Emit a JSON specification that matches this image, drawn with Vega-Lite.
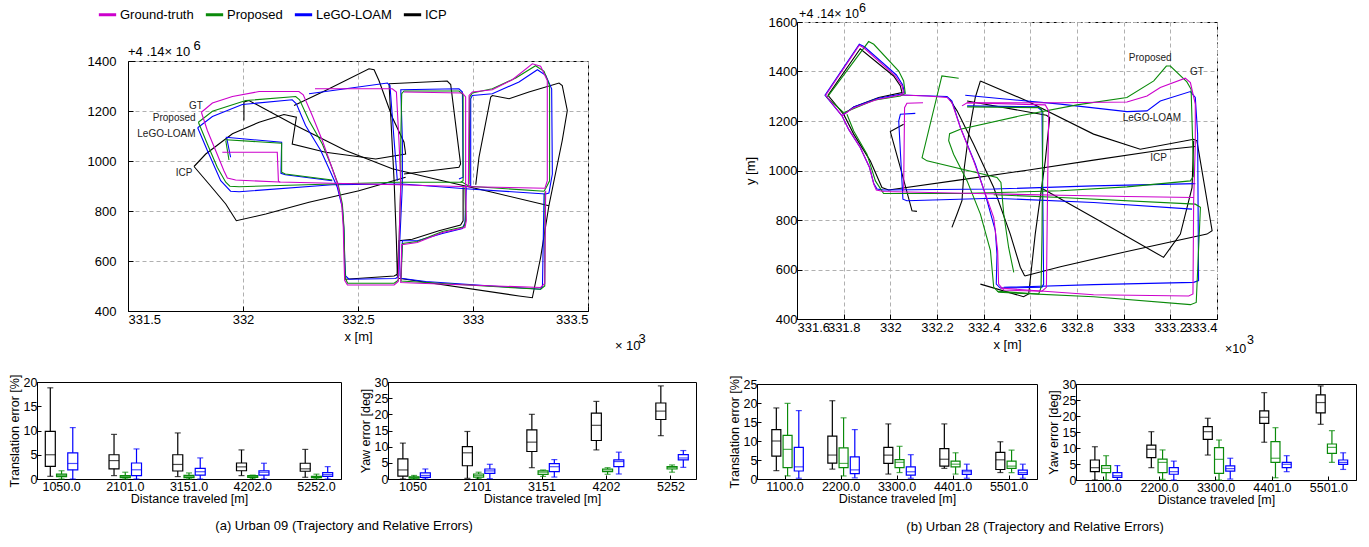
{
"$schema": "https://vega.github.io/schema/vega-lite/v6.json",
"padding": {"left": 7, "top": 1, "right": 5, "bottom": 5},
"config": {
  "font": "Liberation Sans",
  "view": {"stroke": "#000000"},
  "axis": {"labelFont": "Liberation Sans", "titleFont": "Liberation Sans", "labelFontSize": 13, "titleFontSize": 13, "titleFontWeight": "normal", "labelColor": "#000", "titleColor": "#000", "domainColor": "#000", "tickColor": "#000", "labelOverlap": false},
  "text": {"font": "Liberation Sans"},
  "title": {"font": "Liberation Sans", "fontWeight": "normal", "fontSize": 13, "color": "#000"}
},
"datasets": {
"t09": [
{"m":"ICP","s":"K1","x":331.787,"y":978},{"m":"ICP","s":"K1","x":331.838,"y":1028},{"m":"ICP","s":"K1","x":331.954,"y":1109},{"m":"ICP","s":"K1","x":332.070,"y":1155},{"m":"ICP","s":"K1","x":332.178,"y":1186},{"m":"ICP","s":"K1","x":332.232,"y":1175},{"m":"ICP","s":"K1","x":332.214,"y":1068},{"m":"ICP","s":"K1","x":332.359,"y":1035},{"m":"ICP","s":"K1","x":332.577,"y":1008},{"m":"ICP","s":"K1","x":332.707,"y":1028},{"m":"ICP","s":"K1","x":332.700,"y":1075},{"m":"ICP","s":"K1","x":332.649,"y":1175},{"m":"ICP","s":"K1","x":332.591,"y":1322},{"m":"ICP","s":"K1","x":332.570,"y":1365},{"m":"ICP","s":"K1","x":332.548,"y":1369},{"m":"ICP","s":"K1","x":332.359,"y":1282},{"m":"ICP","s":"K1","x":332.222,"y":1222},
{"m":"ICP","s":"K2","x":331.787,"y":978},{"m":"ICP","s":"K2","x":331.852,"y":908},{"m":"ICP","s":"K2","x":331.925,"y":828},{"m":"ICP","s":"K2","x":331.971,"y":761},{"m":"ICP","s":"K2","x":332.099,"y":788},{"m":"ICP","s":"K2","x":332.287,"y":835},{"m":"ICP","s":"K2","x":332.504,"y":881},{"m":"ICP","s":"K2","x":332.707,"y":935},
{"m":"ICP","s":"K3","x":332.004,"y":1162},{"m":"ICP","s":"K3","x":332.004,"y":1236},{"m":"ICP","s":"K3","x":332.026,"y":1242},{"m":"ICP","s":"K3","x":332.214,"y":1149},{"m":"ICP","s":"K3","x":332.446,"y":1042},{"m":"ICP","s":"K3","x":332.649,"y":969},{"m":"ICP","s":"K3","x":332.867,"y":921},{"m":"ICP","s":"K3","x":333.084,"y":875},{"m":"ICP","s":"K3","x":333.330,"y":821},
{"m":"ICP","s":"K5","x":332.635,"y":1309},{"m":"ICP","s":"K5","x":332.888,"y":1320},{"m":"ICP","s":"K5","x":332.903,"y":1306},{"m":"ICP","s":"K5","x":332.946,"y":988},{"m":"ICP","s":"K5","x":332.939,"y":975},{"m":"ICP","s":"K5","x":332.700,"y":948},
{"m":"ICP","s":"K6","x":332.635,"y":1309},{"m":"ICP","s":"K6","x":332.657,"y":921},{"m":"ICP","s":"K6","x":332.667,"y":681},{"m":"ICP","s":"K6","x":332.671,"y":547},{"m":"ICP","s":"K6","x":332.657,"y":540},{"m":"ICP","s":"K6","x":332.446,"y":527},{"m":"ICP","s":"K6","x":332.442,"y":540},
{"m":"ICP","s":"K7","x":332.671,"y":547},{"m":"ICP","s":"K7","x":332.678,"y":681},{"m":"ICP","s":"K7","x":332.736,"y":687},{"m":"ICP","s":"K7","x":332.852,"y":721},{"m":"ICP","s":"K7","x":332.946,"y":744},{"m":"ICP","s":"K7","x":332.957,"y":761},{"m":"ICP","s":"K7","x":332.957,"y":895},
{"m":"ICP","s":"K8","x":333.012,"y":905},{"m":"ICP","s":"K8","x":333.026,"y":1015},{"m":"ICP","s":"K8","x":333.077,"y":1256},{"m":"ICP","s":"K8","x":333.084,"y":1262},{"m":"ICP","s":"K8","x":333.157,"y":1249},{"m":"ICP","s":"K8","x":333.243,"y":1276},{"m":"ICP","s":"K8","x":333.374,"y":1312},{"m":"ICP","s":"K8","x":333.388,"y":1302},{"m":"ICP","s":"K8","x":333.410,"y":1202},{"m":"ICP","s":"K8","x":333.388,"y":1082},{"m":"ICP","s":"K8","x":333.330,"y":821},{"m":"ICP","s":"K8","x":333.294,"y":614},{"m":"ICP","s":"K8","x":333.258,"y":453},{"m":"ICP","s":"K8","x":333.200,"y":460},{"m":"ICP","s":"K8","x":332.678,"y":531},{"m":"ICP","s":"K8","x":332.667,"y":547},
{"m":"LeGO-LOAM","s":"B1","x":331.803,"y":1133},{"m":"LeGO-LOAM","s":"B1","x":331.867,"y":1178},{"m":"LeGO-LOAM","s":"B1","x":331.997,"y":1226},{"m":"LeGO-LOAM","s":"B1","x":332.214,"y":1245},{"m":"LeGO-LOAM","s":"B1","x":332.232,"y":1229},{"m":"LeGO-LOAM","s":"B1","x":332.272,"y":1142},{"m":"LeGO-LOAM","s":"B1","x":332.338,"y":1042},{"m":"LeGO-LOAM","s":"B1","x":332.381,"y":955},{"m":"LeGO-LOAM","s":"B1","x":332.410,"y":895},{"m":"LeGO-LOAM","s":"B1","x":332.432,"y":814},{"m":"LeGO-LOAM","s":"B1","x":332.439,"y":721},{"m":"LeGO-LOAM","s":"B1","x":332.442,"y":614},{"m":"LeGO-LOAM","s":"B1","x":332.446,"y":540},{"m":"LeGO-LOAM","s":"B1","x":332.461,"y":527},{"m":"LeGO-LOAM","s":"B1","x":332.664,"y":530},{"m":"LeGO-LOAM","s":"B1","x":332.678,"y":540},{"m":"LeGO-LOAM","s":"B1","x":332.681,"y":667},{"m":"LeGO-LOAM","s":"B1","x":332.693,"y":908},{"m":"LeGO-LOAM","s":"B1","x":332.693,"y":1082},{"m":"LeGO-LOAM","s":"B1","x":332.686,"y":1285},{"m":"LeGO-LOAM","s":"B1","x":332.939,"y":1289},{"m":"LeGO-LOAM","s":"B1","x":332.954,"y":1276},{"m":"LeGO-LOAM","s":"B1","x":332.957,"y":935},{"m":"LeGO-LOAM","s":"B1","x":332.939,"y":928},
{"m":"LeGO-LOAM","s":"B2","x":331.803,"y":1133},{"m":"LeGO-LOAM","s":"B2","x":331.845,"y":1042},{"m":"LeGO-LOAM","s":"B2","x":331.903,"y":921},{"m":"LeGO-LOAM","s":"B2","x":331.946,"y":879},{"m":"LeGO-LOAM","s":"B2","x":331.983,"y":877},{"m":"LeGO-LOAM","s":"B2","x":332.388,"y":905},{"m":"LeGO-LOAM","s":"B2","x":332.693,"y":908},{"m":"LeGO-LOAM","s":"B2","x":332.983,"y":888},{"m":"LeGO-LOAM","s":"B2","x":333.316,"y":868},{"m":"LeGO-LOAM","s":"B2","x":333.330,"y":872},{"m":"LeGO-LOAM","s":"B2","x":333.345,"y":948},{"m":"LeGO-LOAM","s":"B2","x":333.342,"y":1289},{"m":"LeGO-LOAM","s":"B2","x":333.316,"y":1343},{"m":"LeGO-LOAM","s":"B2","x":333.280,"y":1365},{"m":"LeGO-LOAM","s":"B2","x":333.200,"y":1316},{"m":"LeGO-LOAM","s":"B2","x":333.084,"y":1269},{"m":"LeGO-LOAM","s":"B2","x":332.997,"y":1262},{"m":"LeGO-LOAM","s":"B2","x":332.990,"y":1249},{"m":"LeGO-LOAM","s":"B2","x":332.990,"y":895},
{"m":"LeGO-LOAM","s":"B3a","x":331.929,"y":1093},{"m":"LeGO-LOAM","s":"B3a","x":331.946,"y":1015},
{"m":"LeGO-LOAM","s":"B3b","x":331.925,"y":1095},{"m":"LeGO-LOAM","s":"B3b","x":332.168,"y":1075},{"m":"LeGO-LOAM","s":"B3b","x":332.165,"y":951},{"m":"LeGO-LOAM","s":"B3b","x":332.184,"y":945},{"m":"LeGO-LOAM","s":"B3b","x":332.388,"y":921},
{"m":"LeGO-LOAM","s":"B4","x":332.287,"y":1269},{"m":"LeGO-LOAM","s":"B4","x":332.446,"y":1289},{"m":"LeGO-LOAM","s":"B4","x":332.628,"y":1312},{"m":"LeGO-LOAM","s":"B4","x":332.639,"y":1302},{"m":"LeGO-LOAM","s":"B4","x":332.657,"y":1082},{"m":"LeGO-LOAM","s":"B4","x":332.671,"y":921},
{"m":"LeGO-LOAM","s":"B5","x":332.971,"y":895},{"m":"LeGO-LOAM","s":"B5","x":332.965,"y":754},{"m":"LeGO-LOAM","s":"B5","x":332.954,"y":730},{"m":"LeGO-LOAM","s":"B5","x":332.867,"y":710},{"m":"LeGO-LOAM","s":"B5","x":332.758,"y":681},{"m":"LeGO-LOAM","s":"B5","x":332.693,"y":681},{"m":"LeGO-LOAM","s":"B5","x":332.686,"y":531},{"m":"LeGO-LOAM","s":"B5","x":332.794,"y":518},{"m":"LeGO-LOAM","s":"B5","x":333.294,"y":487},{"m":"LeGO-LOAM","s":"B5","x":333.302,"y":500},{"m":"LeGO-LOAM","s":"B5","x":333.309,"y":868},
{"m":"Proposed","s":"P1","x":331.806,"y":1155},{"m":"Proposed","s":"P1","x":331.867,"y":1199},{"m":"Proposed","s":"P1","x":332.012,"y":1242},{"m":"Proposed","s":"P1","x":332.229,"y":1258},{"m":"Proposed","s":"P1","x":332.246,"y":1245},{"m":"Proposed","s":"P1","x":332.287,"y":1162},{"m":"Proposed","s":"P1","x":332.345,"y":1068},{"m":"Proposed","s":"P1","x":332.386,"y":975},{"m":"Proposed","s":"P1","x":332.413,"y":908},{"m":"Proposed","s":"P1","x":332.432,"y":828},{"m":"Proposed","s":"P1","x":332.439,"y":734},{"m":"Proposed","s":"P1","x":332.442,"y":614},{"m":"Proposed","s":"P1","x":332.445,"y":531},{"m":"Proposed","s":"P1","x":332.455,"y":511},{"m":"Proposed","s":"P1","x":332.657,"y":511},{"m":"Proposed","s":"P1","x":332.675,"y":523},{"m":"Proposed","s":"P1","x":332.678,"y":665},{"m":"Proposed","s":"P1","x":332.686,"y":908},{"m":"Proposed","s":"P1","x":332.686,"y":1082},{"m":"Proposed","s":"P1","x":332.690,"y":1269},{"m":"Proposed","s":"P1","x":332.700,"y":1280},{"m":"Proposed","s":"P1","x":332.939,"y":1280},{"m":"Proposed","s":"P1","x":332.957,"y":1266},{"m":"Proposed","s":"P1","x":332.957,"y":921},{"m":"Proposed","s":"P1","x":332.946,"y":915},
{"m":"Proposed","s":"P2","x":331.806,"y":1155},{"m":"Proposed","s":"P2","x":331.845,"y":1068},{"m":"Proposed","s":"P2","x":331.888,"y":975},{"m":"Proposed","s":"P2","x":331.925,"y":915},{"m":"Proposed","s":"P2","x":331.943,"y":899},{"m":"Proposed","s":"P2","x":331.983,"y":897},{"m":"Proposed","s":"P2","x":332.388,"y":908},{"m":"Proposed","s":"P2","x":332.675,"y":915},{"m":"Proposed","s":"P2","x":332.954,"y":915},{"m":"Proposed","s":"P2","x":332.983,"y":899},{"m":"Proposed","s":"P2","x":333.309,"y":879},{"m":"Proposed","s":"P2","x":333.319,"y":895},{"m":"Proposed","s":"P2","x":333.333,"y":921},{"m":"Proposed","s":"P2","x":333.333,"y":1302},{"m":"Proposed","s":"P2","x":333.309,"y":1359},{"m":"Proposed","s":"P2","x":333.272,"y":1381},{"m":"Proposed","s":"P2","x":333.186,"y":1332},{"m":"Proposed","s":"P2","x":333.084,"y":1289},{"m":"Proposed","s":"P2","x":332.997,"y":1272},{"m":"Proposed","s":"P2","x":332.986,"y":1256},{"m":"Proposed","s":"P2","x":332.983,"y":908},
{"m":"Proposed","s":"P3a","x":331.925,"y":1082},{"m":"Proposed","s":"P3a","x":331.939,"y":1004},
{"m":"Proposed","s":"P3b","x":331.925,"y":1085},{"m":"Proposed","s":"P3b","x":332.168,"y":1071},{"m":"Proposed","s":"P3b","x":332.168,"y":955},{"m":"Proposed","s":"P3b","x":332.184,"y":948},{"m":"Proposed","s":"P3b","x":332.388,"y":924},
{"m":"Proposed","s":"P4","x":332.965,"y":895},{"m":"Proposed","s":"P4","x":332.968,"y":761},{"m":"Proposed","s":"P4","x":332.961,"y":737},{"m":"Proposed","s":"P4","x":332.867,"y":718},{"m":"Proposed","s":"P4","x":332.758,"y":678},{"m":"Proposed","s":"P4","x":332.693,"y":670},{"m":"Proposed","s":"P4","x":332.687,"y":520},{"m":"Proposed","s":"P4","x":332.794,"y":514},{"m":"Proposed","s":"P4","x":333.294,"y":487},{"m":"Proposed","s":"P4","x":333.312,"y":500},{"m":"Proposed","s":"P4","x":333.313,"y":875},
{"m":"Ground-truth","s":"G1","x":331.819,"y":1195},{"m":"Ground-truth","s":"G1","x":331.867,"y":1232},{"m":"Ground-truth","s":"G1","x":331.954,"y":1258},{"m":"Ground-truth","s":"G1","x":332.070,"y":1278},{"m":"Ground-truth","s":"G1","x":332.243,"y":1278},{"m":"Ground-truth","s":"G1","x":332.262,"y":1265},{"m":"Ground-truth","s":"G1","x":332.301,"y":1182},{"m":"Ground-truth","s":"G1","x":332.345,"y":1082},{"m":"Ground-truth","s":"G1","x":332.381,"y":988},{"m":"Ground-truth","s":"G1","x":332.410,"y":911},{"m":"Ground-truth","s":"G1","x":332.429,"y":828},{"m":"Ground-truth","s":"G1","x":332.436,"y":734},{"m":"Ground-truth","s":"G1","x":332.439,"y":614},{"m":"Ground-truth","s":"G1","x":332.442,"y":523},{"m":"Ground-truth","s":"G1","x":332.454,"y":504},{"m":"Ground-truth","s":"G1","x":332.657,"y":504},{"m":"Ground-truth","s":"G1","x":332.675,"y":518},{"m":"Ground-truth","s":"G1","x":332.678,"y":665},{"m":"Ground-truth","s":"G1","x":332.686,"y":908},{"m":"Ground-truth","s":"G1","x":332.678,"y":1082},{"m":"Ground-truth","s":"G1","x":332.667,"y":1276},{"m":"Ground-truth","s":"G1","x":332.649,"y":1289},{"m":"Ground-truth","s":"G1","x":332.313,"y":1289},
{"m":"Ground-truth","s":"G2","x":331.819,"y":1195},{"m":"Ground-truth","s":"G2","x":331.845,"y":1122},{"m":"Ground-truth","s":"G2","x":331.881,"y":1042},{"m":"Ground-truth","s":"G2","x":331.917,"y":961},{"m":"Ground-truth","s":"G2","x":331.932,"y":932},{"m":"Ground-truth","s":"G2","x":331.968,"y":924},{"m":"Ground-truth","s":"G2","x":332.157,"y":916},{"m":"Ground-truth","s":"G2","x":332.388,"y":911},{"m":"Ground-truth","s":"G2","x":332.675,"y":905},{"m":"Ground-truth","s":"G2","x":332.983,"y":897},{"m":"Ground-truth","s":"G2","x":333.313,"y":891},{"m":"Ground-truth","s":"G2","x":333.323,"y":921},{"m":"Ground-truth","s":"G2","x":333.323,"y":1322},{"m":"Ground-truth","s":"G2","x":333.294,"y":1379},{"m":"Ground-truth","s":"G2","x":333.258,"y":1389},{"m":"Ground-truth","s":"G2","x":333.171,"y":1325},{"m":"Ground-truth","s":"G2","x":333.084,"y":1285},{"m":"Ground-truth","s":"G2","x":332.997,"y":1276},{"m":"Ground-truth","s":"G2","x":332.983,"y":1262},{"m":"Ground-truth","s":"G2","x":332.980,"y":908},{"m":"Ground-truth","s":"G2","x":332.990,"y":895},
{"m":"Ground-truth","s":"G3","x":331.910,"y":1035},{"m":"Ground-truth","s":"G3","x":332.149,"y":1035},{"m":"Ground-truth","s":"G3","x":332.154,"y":919},{"m":"Ground-truth","s":"G3","x":332.162,"y":915},
{"m":"Ground-truth","s":"G4","x":332.700,"y":1276},{"m":"Ground-truth","s":"G4","x":332.954,"y":1272},{"m":"Ground-truth","s":"G4","x":332.968,"y":1256},{"m":"Ground-truth","s":"G4","x":332.968,"y":908},{"m":"Ground-truth","s":"G4","x":332.971,"y":761},{"m":"Ground-truth","s":"G4","x":332.965,"y":734},{"m":"Ground-truth","s":"G4","x":332.867,"y":714},{"m":"Ground-truth","s":"G4","x":332.758,"y":674},{"m":"Ground-truth","s":"G4","x":332.690,"y":665},{"m":"Ground-truth","s":"G4","x":332.686,"y":514},{"m":"Ground-truth","s":"G4","x":332.794,"y":510},{"m":"Ground-truth","s":"G4","x":333.294,"y":494},{"m":"Ground-truth","s":"G4","x":333.312,"y":510},{"m":"Ground-truth","s":"G4","x":333.316,"y":881}
],
"t28": [
{"m":"ICP","s":"K1","x":331.800,"y":1227},{"m":"ICP","s":"K1","x":331.733,"y":1304},{"m":"ICP","s":"K1","x":331.871,"y":1492},{"m":"ICP","s":"K1","x":332.014,"y":1382},{"m":"ICP","s":"K1","x":332.043,"y":1342},{"m":"ICP","s":"K1","x":332.050,"y":1315},{"m":"ICP","s":"K1","x":331.950,"y":1295},{"m":"ICP","s":"K1","x":331.843,"y":1257},{"m":"ICP","s":"K1","x":331.800,"y":1227},
{"m":"ICP","s":"K2","x":331.800,"y":1227},{"m":"ICP","s":"K2","x":331.843,"y":1147},{"m":"ICP","s":"K2","x":331.914,"y":1039},{"m":"ICP","s":"K2","x":331.964,"y":931},{"m":"ICP","s":"K2","x":331.993,"y":921},{"m":"ICP","s":"K2","x":332.300,"y":962},{"m":"ICP","s":"K2","x":332.586,"y":1001},{"m":"ICP","s":"K2","x":332.871,"y":1042},{"m":"ICP","s":"K2","x":333.157,"y":1082},{"m":"ICP","s":"K2","x":333.307,"y":1097},
{"m":"ICP","s":"K3","x":332.057,"y":1187},{"m":"ICP","s":"K3","x":332.000,"y":1157},{"m":"ICP","s":"K3","x":332.043,"y":1012},{"m":"ICP","s":"K3","x":332.093,"y":837},{"m":"ICP","s":"K3","x":332.114,"y":835},
{"m":"ICP","s":"K4","x":332.386,"y":1362},{"m":"ICP","s":"K4","x":332.586,"y":1281},{"m":"ICP","s":"K4","x":332.871,"y":1147},{"m":"ICP","s":"K4","x":333.071,"y":1086},{"m":"ICP","s":"K4","x":333.300,"y":1126},{"m":"ICP","s":"K4","x":333.314,"y":1120},{"m":"ICP","s":"K4","x":333.379,"y":757},{"m":"ICP","s":"K4","x":333.357,"y":743},{"m":"ICP","s":"K4","x":333.014,"y":673},{"m":"ICP","s":"K4","x":332.729,"y":611},{"m":"ICP","s":"K4","x":332.576,"y":574},
{"m":"ICP","s":"K5","x":332.386,"y":1362},{"m":"ICP","s":"K5","x":332.364,"y":1295},{"m":"ICP","s":"K5","x":332.336,"y":1147},{"m":"ICP","s":"K5","x":332.317,"y":1012},{"m":"ICP","s":"K5","x":332.307,"y":878},{"m":"ICP","s":"K5","x":332.286,"y":824},{"m":"ICP","s":"K5","x":332.264,"y":770},
{"m":"ICP","s":"K6","x":332.254,"y":1288},{"m":"ICP","s":"K6","x":332.286,"y":1241},{"m":"ICP","s":"K6","x":332.357,"y":1106},{"m":"ICP","s":"K6","x":332.443,"y":931},{"m":"ICP","s":"K6","x":332.514,"y":743},{"m":"ICP","s":"K6","x":332.557,"y":609},{"m":"ICP","s":"K6","x":332.576,"y":574},
{"m":"ICP","s":"K7","x":332.386,"y":541},{"m":"ICP","s":"K7","x":332.571,"y":490},{"m":"ICP","s":"K7","x":332.593,"y":501},{"m":"ICP","s":"K7","x":332.621,"y":743},{"m":"ICP","s":"K7","x":332.664,"y":1039},{"m":"ICP","s":"K7","x":332.683,"y":1214},{"m":"ICP","s":"K7","x":332.669,"y":1223},{"m":"ICP","s":"K7","x":332.329,"y":1281},
{"m":"ICP","s":"K8","x":332.643,"y":931},{"m":"ICP","s":"K8","x":332.871,"y":810},{"m":"ICP","s":"K8","x":333.171,"y":649},{"m":"ICP","s":"K8","x":333.243,"y":743},{"m":"ICP","s":"K8","x":333.293,"y":931},{"m":"ICP","s":"K8","x":333.300,"y":1120},
{"m":"LeGO-LOAM","s":"B1","x":331.793,"y":1221},{"m":"LeGO-LOAM","s":"B1","x":331.720,"y":1304},{"m":"LeGO-LOAM","s":"B1","x":331.867,"y":1510},{"m":"LeGO-LOAM","s":"B1","x":331.889,"y":1500},{"m":"LeGO-LOAM","s":"B1","x":332.026,"y":1386},{"m":"LeGO-LOAM","s":"B1","x":332.053,"y":1346},{"m":"LeGO-LOAM","s":"B1","x":332.060,"y":1315},{"m":"LeGO-LOAM","s":"B1","x":332.043,"y":1308},{"m":"LeGO-LOAM","s":"B1","x":331.943,"y":1291},{"m":"LeGO-LOAM","s":"B1","x":331.843,"y":1257},{"m":"LeGO-LOAM","s":"B1","x":331.793,"y":1221},
{"m":"LeGO-LOAM","s":"B2","x":331.793,"y":1221},{"m":"LeGO-LOAM","s":"B2","x":331.821,"y":1167},{"m":"LeGO-LOAM","s":"B2","x":331.871,"y":1093},{"m":"LeGO-LOAM","s":"B2","x":331.911,"y":1012},{"m":"LeGO-LOAM","s":"B2","x":331.929,"y":947},{"m":"LeGO-LOAM","s":"B2","x":331.943,"y":925},{"m":"LeGO-LOAM","s":"B2","x":331.971,"y":921},{"m":"LeGO-LOAM","s":"B2","x":332.443,"y":925},{"m":"LeGO-LOAM","s":"B2","x":332.871,"y":938},{"m":"LeGO-LOAM","s":"B2","x":333.307,"y":947},
{"m":"LeGO-LOAM","s":"B3","x":332.107,"y":1231},{"m":"LeGO-LOAM","s":"B3","x":332.043,"y":1227},{"m":"LeGO-LOAM","s":"B3","x":332.036,"y":1200},{"m":"LeGO-LOAM","s":"B3","x":332.054,"y":884},{"m":"LeGO-LOAM","s":"B3","x":332.071,"y":878},{"m":"LeGO-LOAM","s":"B3","x":332.443,"y":888},{"m":"LeGO-LOAM","s":"B3","x":332.871,"y":871},{"m":"LeGO-LOAM","s":"B3","x":333.293,"y":844},
{"m":"LeGO-LOAM","s":"B4","x":332.043,"y":1305},{"m":"LeGO-LOAM","s":"B4","x":332.243,"y":1299},{"m":"LeGO-LOAM","s":"B4","x":332.264,"y":1281},{"m":"LeGO-LOAM","s":"B4","x":332.300,"y":1174},{"m":"LeGO-LOAM","s":"B4","x":332.364,"y":1026},{"m":"LeGO-LOAM","s":"B4","x":332.407,"y":904},{"m":"LeGO-LOAM","s":"B4","x":332.450,"y":757},{"m":"LeGO-LOAM","s":"B4","x":332.457,"y":662},{"m":"LeGO-LOAM","s":"B4","x":332.454,"y":541},{"m":"LeGO-LOAM","s":"B4","x":332.471,"y":525},{"m":"LeGO-LOAM","s":"B4","x":332.650,"y":528},{"m":"LeGO-LOAM","s":"B4","x":332.657,"y":541},{"m":"LeGO-LOAM","s":"B4","x":332.650,"y":1241},{"m":"LeGO-LOAM","s":"B4","x":332.629,"y":1257},{"m":"LeGO-LOAM","s":"B4","x":332.329,"y":1261},
{"m":"LeGO-LOAM","s":"B5","x":332.321,"y":1304},{"m":"LeGO-LOAM","s":"B5","x":332.729,"y":1268},{"m":"LeGO-LOAM","s":"B5","x":333.014,"y":1238},{"m":"LeGO-LOAM","s":"B5","x":333.100,"y":1241},{"m":"LeGO-LOAM","s":"B5","x":333.157,"y":1281},{"m":"LeGO-LOAM","s":"B5","x":333.286,"y":1319},{"m":"LeGO-LOAM","s":"B5","x":333.307,"y":1295},{"m":"LeGO-LOAM","s":"B5","x":333.317,"y":1147},{"m":"LeGO-LOAM","s":"B5","x":333.321,"y":555},{"m":"LeGO-LOAM","s":"B5","x":333.300,"y":548},{"m":"LeGO-LOAM","s":"B5","x":332.871,"y":539},{"m":"LeGO-LOAM","s":"B5","x":332.486,"y":528},
{"m":"Proposed","s":"P1","x":331.800,"y":1234},{"m":"Proposed","s":"P1","x":331.729,"y":1295},{"m":"Proposed","s":"P1","x":331.907,"y":1521},{"m":"Proposed","s":"P1","x":331.929,"y":1510},{"m":"Proposed","s":"P1","x":332.036,"y":1402},{"m":"Proposed","s":"P1","x":332.057,"y":1362},{"m":"Proposed","s":"P1","x":332.064,"y":1311},{"m":"Proposed","s":"P1","x":332.043,"y":1301},{"m":"Proposed","s":"P1","x":331.929,"y":1284},{"m":"Proposed","s":"P1","x":331.821,"y":1241},{"m":"Proposed","s":"P1","x":331.800,"y":1234},
{"m":"Proposed","s":"P2","x":331.814,"y":1227},{"m":"Proposed","s":"P2","x":331.843,"y":1160},{"m":"Proposed","s":"P2","x":331.900,"y":1066},{"m":"Proposed","s":"P2","x":331.936,"y":958},{"m":"Proposed","s":"P2","x":331.971,"y":907},{"m":"Proposed","s":"P2","x":332.300,"y":907},{"m":"Proposed","s":"P2","x":332.729,"y":918},{"m":"Proposed","s":"P2","x":333.014,"y":934},{"m":"Proposed","s":"P2","x":333.286,"y":958},{"m":"Proposed","s":"P2","x":333.300,"y":978},{"m":"Proposed","s":"P2","x":333.289,"y":1328},{"m":"Proposed","s":"P2","x":333.271,"y":1358},{"m":"Proposed","s":"P2","x":333.200,"y":1422},{"m":"Proposed","s":"P2","x":333.183,"y":1422},{"m":"Proposed","s":"P2","x":333.129,"y":1362},{"m":"Proposed","s":"P2","x":333.014,"y":1295},{"m":"Proposed","s":"P2","x":332.800,"y":1265},{"m":"Proposed","s":"P2","x":332.557,"y":1221},{"m":"Proposed","s":"P2","x":332.300,"y":1167},{"m":"Proposed","s":"P2","x":332.254,"y":1149},{"m":"Proposed","s":"P2","x":332.250,"y":1120},{"m":"Proposed","s":"P2","x":332.271,"y":1066},{"m":"Proposed","s":"P2","x":332.329,"y":958},{"m":"Proposed","s":"P2","x":332.386,"y":824},{"m":"Proposed","s":"P2","x":332.429,"y":676},{"m":"Proposed","s":"P2","x":332.443,"y":528},{"m":"Proposed","s":"P2","x":332.464,"y":508},{"m":"Proposed","s":"P2","x":332.871,"y":490},{"m":"Proposed","s":"P2","x":333.286,"y":458},{"m":"Proposed","s":"P2","x":333.311,"y":467},{"m":"Proposed","s":"P2","x":333.329,"y":851},{"m":"Proposed","s":"P2","x":333.307,"y":864},{"m":"Proposed","s":"P2","x":332.729,"y":891},{"m":"Proposed","s":"P2","x":332.443,"y":902},
{"m":"Proposed","s":"P3","x":332.293,"y":1373},{"m":"Proposed","s":"P3","x":332.221,"y":1382},{"m":"Proposed","s":"P3","x":332.136,"y":1052},{"m":"Proposed","s":"P3","x":332.157,"y":1039},{"m":"Proposed","s":"P3","x":332.457,"y":972},{"m":"Proposed","s":"P3","x":332.474,"y":952},{"m":"Proposed","s":"P3","x":332.486,"y":824},{"m":"Proposed","s":"P3","x":332.507,"y":689},{"m":"Proposed","s":"P3","x":332.529,"y":588},
{"m":"Proposed","s":"P4","x":332.329,"y":1257},{"m":"Proposed","s":"P4","x":332.643,"y":1254},{"m":"Proposed","s":"P4","x":332.654,"y":1234},{"m":"Proposed","s":"P4","x":332.650,"y":743},{"m":"Proposed","s":"P4","x":332.646,"y":528},{"m":"Proposed","s":"P4","x":332.636,"y":501},{"m":"Proposed","s":"P4","x":332.457,"y":512},
{"m":"Ground-truth","s":"G1","x":331.793,"y":1221},{"m":"Ground-truth","s":"G1","x":331.723,"y":1304},{"m":"Ground-truth","s":"G1","x":331.867,"y":1506},{"m":"Ground-truth","s":"G1","x":331.886,"y":1496},{"m":"Ground-truth","s":"G1","x":332.021,"y":1382},{"m":"Ground-truth","s":"G1","x":332.050,"y":1342},{"m":"Ground-truth","s":"G1","x":332.057,"y":1315},{"m":"Ground-truth","s":"G1","x":332.043,"y":1305},{"m":"Ground-truth","s":"G1","x":331.943,"y":1287},{"m":"Ground-truth","s":"G1","x":331.843,"y":1254},{"m":"Ground-truth","s":"G1","x":331.793,"y":1221},
{"m":"Ground-truth","s":"G2","x":331.793,"y":1221},{"m":"Ground-truth","s":"G2","x":331.821,"y":1167},{"m":"Ground-truth","s":"G2","x":331.871,"y":1093},{"m":"Ground-truth","s":"G2","x":331.911,"y":1012},{"m":"Ground-truth","s":"G2","x":331.929,"y":945},{"m":"Ground-truth","s":"G2","x":331.940,"y":921},{"m":"Ground-truth","s":"G2","x":331.971,"y":915},{"m":"Ground-truth","s":"G2","x":332.371,"y":907},{"m":"Ground-truth","s":"G2","x":332.729,"y":900},{"m":"Ground-truth","s":"G2","x":333.014,"y":895},{"m":"Ground-truth","s":"G2","x":333.300,"y":891},
{"m":"Ground-truth","s":"G3","x":332.043,"y":1305},{"m":"Ground-truth","s":"G3","x":332.157,"y":1301},{"m":"Ground-truth","s":"G3","x":332.243,"y":1295},{"m":"Ground-truth","s":"G3","x":332.264,"y":1274},{"m":"Ground-truth","s":"G3","x":332.300,"y":1174},{"m":"Ground-truth","s":"G3","x":332.357,"y":1039},{"m":"Ground-truth","s":"G3","x":332.400,"y":925},{"m":"Ground-truth","s":"G3","x":332.443,"y":810},{"m":"Ground-truth","s":"G3","x":332.460,"y":676},{"m":"Ground-truth","s":"G3","x":332.464,"y":541},{"m":"Ground-truth","s":"G3","x":332.486,"y":517},{"m":"Ground-truth","s":"G3","x":332.650,"y":512},{"m":"Ground-truth","s":"G3","x":332.669,"y":528},{"m":"Ground-truth","s":"G3","x":332.674,"y":931},{"m":"Ground-truth","s":"G3","x":332.679,"y":1241},{"m":"Ground-truth","s":"G3","x":332.664,"y":1265},{"m":"Ground-truth","s":"G3","x":332.329,"y":1274},{"m":"Ground-truth","s":"G3","x":332.307,"y":1261},
{"m":"Ground-truth","s":"G4","x":332.140,"y":1274},{"m":"Ground-truth","s":"G4","x":332.071,"y":1272},{"m":"Ground-truth","s":"G4","x":332.061,"y":1254},{"m":"Ground-truth","s":"G4","x":332.057,"y":918},
{"m":"Ground-truth","s":"G5","x":332.329,"y":1274},{"m":"Ground-truth","s":"G5","x":332.729,"y":1274},{"m":"Ground-truth","s":"G5","x":333.014,"y":1277},{"m":"Ground-truth","s":"G5","x":333.100,"y":1301},{"m":"Ground-truth","s":"G5","x":333.157,"y":1335},{"m":"Ground-truth","s":"G5","x":333.264,"y":1373},{"m":"Ground-truth","s":"G5","x":333.286,"y":1355},{"m":"Ground-truth","s":"G5","x":333.307,"y":1268},{"m":"Ground-truth","s":"G5","x":333.307,"y":1106},{"m":"Ground-truth","s":"G5","x":333.300,"y":878},{"m":"Ground-truth","s":"G5","x":333.297,"y":501},{"m":"Ground-truth","s":"G5","x":333.279,"y":493},{"m":"Ground-truth","s":"G5","x":332.871,"y":498},{"m":"Ground-truth","s":"G5","x":332.471,"y":525}
],
"lab09": [{"t":"GT","x":331.826,"y":1220},{"t":"Proposed","x":331.794,"y":1173},{"t":"LeGO-LOAM","x":331.794,"y":1109},{"t":"ICP","x":331.780,"y":952}],
"lab28": [{"t":"Proposed","x":333.114,"y":1453},{"t":"GT","x":333.314,"y":1400},{"t":"LeGO-LOAM","x":333.121,"y":1214},{"t":"ICP","x":333.150,"y":1052}],
"exp09": [{"t":"+4 .14× 10","x":331.5,"y":1420},{"t":"6","x":331.785,"y":1444},{"t":"× 10","x":333.617,"y":244},{"t":"3","x":333.72,"y":272}],
"exp28": [{"t":"+4 .14× 10","x":331.609,"y":1616},{"t":"6","x":331.866,"y":1640},{"t":"×10","x":333.434,"y":263},{"t":"3","x":333.529,"y":299}],
"b09t": [
{"d":"1050.0","m":"ICP","lo":0.55,"q1":2.6,"md":5.0,"q3":9.8,"hi":18.8},{"d":"1050.0","m":"Proposed","lo":0,"q1":0.5,"md":0.75,"q3":1.0,"hi":1.7},{"d":"1050.0","m":"LeGO-LOAM","lo":0,"q1":1.9,"md":3.2,"q3":5.4,"hi":10.6},
{"d":"2101.0","m":"ICP","lo":0.7,"q1":2.1,"md":3.8,"q3":5.0,"hi":9.2},{"d":"2101.0","m":"Proposed","lo":0,"q1":0.3,"md":0.5,"q3":0.7,"hi":1.4},{"d":"2101.0","m":"LeGO-LOAM","lo":0,"q1":0.7,"md":1.9,"q3":3.3,"hi":6.2},
{"d":"3151.0","m":"ICP","lo":0.5,"q1":1.65,"md":3.0,"q3":5.0,"hi":9.5},{"d":"3151.0","m":"Proposed","lo":0,"q1":0.3,"md":0.55,"q3":0.75,"hi":1.25},{"d":"3151.0","m":"LeGO-LOAM","lo":0,"q1":0.8,"md":1.5,"q3":2.2,"hi":4.35},
{"d":"4202.0","m":"ICP","lo":0.7,"q1":1.7,"md":2.5,"q3":3.3,"hi":6.0},{"d":"4202.0","m":"Proposed","lo":0.15,"q1":0.35,"md":0.5,"q3":0.7,"hi":0.8},{"d":"4202.0","m":"LeGO-LOAM","lo":0,"q1":0.8,"md":1.4,"q3":1.7,"hi":3.25},
{"d":"5252.0","m":"ICP","lo":0.35,"q1":1.6,"md":2.1,"q3":3.25,"hi":6.1},{"d":"5252.0","m":"Proposed","lo":0,"q1":0.3,"md":0.4,"q3":0.55,"hi":1.0},{"d":"5252.0","m":"LeGO-LOAM","lo":0,"q1":0.55,"md":0.9,"q3":1.3,"hi":2.55}
],
"b09y": [
{"d":"1050","m":"ICP","lo":0,"q1":0.9,"md":2.8,"q3":6.2,"hi":11.1},{"d":"1050","m":"Proposed","lo":0,"q1":0.3,"md":0.5,"q3":0.7,"hi":1.1},{"d":"1050","m":"LeGO-LOAM","lo":0,"q1":0.5,"md":1.1,"q3":1.9,"hi":3.1},
{"d":"2101","m":"ICP","lo":0.2,"q1":4.1,"md":8.1,"q3":10.0,"hi":14.7},{"d":"2101","m":"Proposed","lo":0.1,"q1":0.6,"md":1.1,"q3":1.55,"hi":2.1},{"d":"2101","m":"LeGO-LOAM","lo":0.1,"q1":1.75,"md":2.5,"q3":3.1,"hi":4.55},
{"d":"3151","m":"ICP","lo":3.5,"q1":8.5,"md":11.4,"q3":15.2,"hi":20.0},{"d":"3151","m":"Proposed","lo":0.8,"q1":1.45,"md":2.1,"q3":2.5,"hi":2.8},{"d":"3151","m":"LeGO-LOAM","lo":0.6,"q1":2.3,"md":3.8,"q3":4.75,"hi":6.0},
{"d":"4202","m":"ICP","lo":9.0,"q1":11.9,"md":16.6,"q3":20.4,"hi":24.0},{"d":"4202","m":"Proposed","lo":1.45,"q1":2.3,"md":2.8,"q3":3.1,"hi":3.5},{"d":"4202","m":"LeGO-LOAM","lo":1.55,"q1":3.8,"md":5.4,"q3":5.9,"hi":8.3},
{"d":"5252","m":"ICP","lo":13.4,"q1":18.4,"md":21.0,"q3":23.5,"hi":28.8},{"d":"5252","m":"Proposed","lo":2.1,"q1":3.1,"md":3.5,"q3":3.8,"hi":4.35},{"d":"5252","m":"LeGO-LOAM","lo":3.6,"q1":5.9,"md":6.5,"q3":7.55,"hi":8.8}
],
"b28t": [
{"d":"1100.0","m":"ICP","lo":2.2,"q1":6.0,"md":10.0,"q3":13.0,"hi":18.7},{"d":"1100.0","m":"Proposed","lo":0.8,"q1":3.0,"md":7.8,"q3":11.5,"hi":19.9},{"d":"1100.0","m":"LeGO-LOAM","lo":0.2,"q1":2.1,"md":3.2,"q3":8.3,"hi":18.0},
{"d":"2200.0","m":"ICP","lo":2.6,"q1":4.2,"md":6.3,"q3":11.3,"hi":20.6},{"d":"2200.0","m":"Proposed","lo":0.8,"q1":3.0,"md":4.1,"q3":8.2,"hi":16.1},{"d":"2200.0","m":"LeGO-LOAM","lo":0.3,"q1":1.4,"md":2.4,"q3":5.8,"hi":13.0},
{"d":"3300.0","m":"ICP","lo":1.3,"q1":4.1,"md":6.3,"q3":8.3,"hi":14.5},{"d":"3300.0","m":"Proposed","lo":1.7,"q1":3.0,"md":4.4,"q3":5.1,"hi":8.6},{"d":"3300.0","m":"LeGO-LOAM","lo":0.2,"q1":1.0,"md":1.9,"q3":3.2,"hi":6.4},
{"d":"4401.0","m":"ICP","lo":2.8,"q1":3.4,"md":5.2,"q3":8.0,"hi":14.5},{"d":"4401.0","m":"Proposed","lo":1.3,"q1":3.2,"md":3.9,"q3":4.7,"hi":6.9},{"d":"4401.0","m":"LeGO-LOAM","lo":0.2,"q1":1.2,"md":1.9,"q3":2.3,"hi":3.9},
{"d":"5501.0","m":"ICP","lo":1.7,"q1":2.5,"md":5.05,"q3":7.0,"hi":9.8},{"d":"5501.0","m":"Proposed","lo":1.7,"q1":2.8,"md":3.4,"q3":4.7,"hi":7.6},{"d":"5501.0","m":"LeGO-LOAM","lo":0.2,"q1":1.2,"md":1.7,"q3":2.35,"hi":3.9}
],
"b28y": [
{"d":"1100.0","m":"ICP","lo":0,"q1":2.6,"md":3.85,"q3":6.25,"hi":10.4},{"d":"1100.0","m":"Proposed","lo":0,"q1":2.3,"md":3.65,"q3":4.5,"hi":7.6},{"d":"1100.0","m":"LeGO-LOAM","lo":0,"q1":0.8,"md":1.35,"q3":2.3,"hi":4.5},
{"d":"2200.0","m":"ICP","lo":3.85,"q1":7.0,"md":9.6,"q3":10.9,"hi":15.1},{"d":"2200.0","m":"Proposed","lo":0.2,"q1":2.3,"md":5.5,"q3":6.55,"hi":9.4},{"d":"2200.0","m":"LeGO-LOAM","lo":0,"q1":1.8,"md":2.6,"q3":3.85,"hi":5.9},
{"d":"3300.0","m":"ICP","lo":7.8,"q1":12.7,"md":15.1,"q3":16.7,"hi":19.3},{"d":"3300.0","m":"Proposed","lo":0,"q1":2.1,"md":6.45,"q3":10.1,"hi":12.5},{"d":"3300.0","m":"LeGO-LOAM","lo":0.3,"q1":2.8,"md":3.55,"q3":4.4,"hi":6.8},
{"d":"4401.0","m":"ICP","lo":11.8,"q1":17.7,"md":19.6,"q3":21.6,"hi":27.3},{"d":"4401.0","m":"Proposed","lo":0.7,"q1":5.5,"md":6.8,"q3":12.0,"hi":16.35},{"d":"4401.0","m":"LeGO-LOAM","lo":2.6,"q1":3.85,"md":4.9,"q3":5.5,"hi":7.6},
{"d":"5501.0","m":"ICP","lo":17.4,"q1":21.0,"md":24.2,"q3":26.6,"hi":29.4},{"d":"5501.0","m":"Proposed","lo":5.5,"q1":8.3,"md":10.2,"q3":11.25,"hi":15.4},{"d":"5501.0","m":"LeGO-LOAM","lo":3.3,"q1":4.9,"md":5.5,"q3":6.25,"hi":8.5}
]
},
"spacing": 30,
"hconcat": [
{
  "spacing": 19,
  "title": {"text": "(a) Urban 09 (Trajectory and Relative Errors)", "orient": "bottom", "anchor": "middle", "offset": 14, "dx": -8},
  "vconcat": [
    {
      "spacing": 15,
      "vconcat": [
        {"width": 1, "height": 1, "data": {"values": []}, "mark": "point", "view": {"stroke": "transparent"}},
        {
          "spacing": 47,
          "hconcat": [
            {"width": 1, "height": 1, "data": {"values": []}, "mark": "point", "view": {"stroke": "transparent"}},
            {
              "width": 460, "height": 250,
              "layer": [
                {"data": {"name": "t09"}, "mark": {"type": "line", "strokeWidth": 1.1, "clip": true},
                 "encoding": {
                   "x": {"field": "x", "type": "quantitative", "scale": {"domain": [331.5, 333.5], "nice": false, "zero": false},
                         "axis": {"values": [331.5, 332, 332.5, 333, 333.5], "format": "~f", "title": "x [m]", "grid": true, "gridDash": [4, 3], "gridColor": "#b0b0b0", "tickSize": -5, "labelPadding": 7, "titlePadding": 4}},
                   "y": {"field": "y", "type": "quantitative", "scale": {"domain": [400, 1400], "nice": false, "zero": false},
                         "axis": {"values": [400, 600, 800, 1000, 1200, 1400], "format": "d", "title": null, "grid": true, "gridDash": [4, 3], "gridColor": "#b0b0b0", "tickSize": -5, "labelPadding": 17}},
                   "color": {"field": "m", "type": "nominal",
                             "scale": {"domain": ["Ground-truth", "Proposed", "LeGO-LOAM", "ICP"], "range": ["#cc00cc", "#0a8a0a", "#0000ff", "#000000"]},
                             "legend": {"orient": "none", "legendX": 60, "legendY": -18, "direction": "horizontal", "title": null, "symbolType": "stroke", "symbolStrokeWidth": 3, "symbolSize": 300, "labelFont": "Liberation Sans", "labelFontSize": 13, "labelOffset": 2, "columnPadding": 5, "padding": 0, "labelLimit": 300}},
                   "detail": {"field": "s"},
                   "order": {"value": null}
                 }},
                {"data": {"name": "lab09"}, "mark": {"type": "text", "align": "right", "baseline": "middle", "fontSize": 10, "color": "#222"},
                 "encoding": {
                   "x": {"field": "x", "type": "quantitative", "axis": {"values": [331.5, 332, 332.5, 333, 333.5], "format": "~f", "title": "x [m]", "grid": true, "gridDash": [4, 3], "gridColor": "#b0b0b0", "tickSize": -5, "labelPadding": 7, "titlePadding": 4}},
                   "y": {"field": "y", "type": "quantitative", "axis": {"values": [400, 600, 800, 1000, 1200, 1400], "format": "d", "title": null, "grid": true, "gridDash": [4, 3], "gridColor": "#b0b0b0", "tickSize": -5, "labelPadding": 17}},
                   "text": {"field": "t"}}},
                {"data": {"name": "exp09"}, "mark": {"type": "text", "align": "left", "baseline": "alphabetic", "fontSize": 13, "color": "#000"},
                 "encoding": {
                   "x": {"field": "x", "type": "quantitative", "axis": {"values": [331.5, 332, 332.5, 333, 333.5], "format": "~f", "title": "x [m]", "grid": true, "gridDash": [4, 3], "gridColor": "#b0b0b0", "tickSize": -5, "labelPadding": 7, "titlePadding": 4}},
                   "y": {"field": "y", "type": "quantitative", "axis": {"values": [400, 600, 800, 1000, 1200, 1400], "format": "d", "title": null, "grid": true, "gridDash": [4, 3], "gridColor": "#b0b0b0", "tickSize": -5, "labelPadding": 17}},
                   "text": {"field": "t"}}}
              ]
            }
          ]
        }
      ]
    },
    {
      "spacing": 16,
      "hconcat": [
        {
          "width": 304, "height": 97,
          "data": {"name": "b09t"},
          "encoding": {
            "x": {"field": "d", "type": "nominal", "scale": {"domain": ["1050.0", "2101.0", "3151.0", "4202.0", "5252.0"], "paddingInner": 0.48, "paddingOuter": 0.125},
                  "axis": {"title": "Distance traveled [m]", "labelAngle": 0, "labelFontSize": 12.5, "titleFontSize": 12.5, "tickSize": -4, "labelPadding": 5, "titlePadding": 0}},
            "xOffset": {"field": "m", "type": "nominal", "scale": {"domain": ["ICP", "Proposed", "LeGO-LOAM"], "paddingInner": 0.05}}
          },
          "layer": [
            {"mark": {"type": "rule", "strokeWidth": 1.2}, "encoding": {"y": {"field": "lo", "type": "quantitative", "title": "Translation error [%]", "scale": {"domain": [0, 20], "nice": false}, "axis": {"values": [0, 5, 10, 15, 20], "grid": false, "tickSize": -4, "labelPadding": 4, "titlePadding": 2, "labelFontSize": 12.5, "titleFontSize": 12.5}}, "y2": {"field": "hi"}, "color": {"field": "m", "type": "nominal", "scale": {"domain": ["Ground-truth", "Proposed", "LeGO-LOAM", "ICP"], "range": ["#cc00cc", "#0a8a0a", "#0000ff", "#000000"]}, "legend": null}}},
            {"mark": {"type": "bar", "fill": "white", "strokeWidth": 1.2, "width": 10}, "encoding": {"y": {"field": "q1", "type": "quantitative", "title": "Translation error [%]", "axis": {"values": [0, 5, 10, 15, 20], "grid": false, "tickSize": -4, "labelPadding": 4, "titlePadding": 2, "labelFontSize": 12.5, "titleFontSize": 12.5}}, "y2": {"field": "q3"}, "stroke": {"field": "m", "type": "nominal", "scale": {"domain": ["Ground-truth", "Proposed", "LeGO-LOAM", "ICP"], "range": ["#cc00cc", "#0a8a0a", "#0000ff", "#000000"]}, "legend": null}}},
            {"mark": {"type": "tick", "thickness": 1.2, "size": 10}, "encoding": {"y": {"field": "md", "type": "quantitative", "title": "Translation error [%]", "axis": {"values": [0, 5, 10, 15, 20], "grid": false, "tickSize": -4, "labelPadding": 4, "titlePadding": 2, "labelFontSize": 12.5, "titleFontSize": 12.5}}, "color": {"field": "m", "type": "nominal", "legend": null}}},
            {"mark": {"type": "tick", "thickness": 1.2, "size": 6}, "encoding": {"y": {"field": "lo", "type": "quantitative", "title": "Translation error [%]", "axis": {"values": [0, 5, 10, 15, 20], "grid": false, "tickSize": -4, "labelPadding": 4, "titlePadding": 2, "labelFontSize": 12.5, "titleFontSize": 12.5}}, "color": {"field": "m", "type": "nominal", "legend": null}}},
            {"mark": {"type": "tick", "thickness": 1.2, "size": 6}, "encoding": {"y": {"field": "hi", "type": "quantitative", "title": "Translation error [%]", "axis": {"values": [0, 5, 10, 15, 20], "grid": false, "tickSize": -4, "labelPadding": 4, "titlePadding": 2, "labelFontSize": 12.5, "titleFontSize": 12.5}}, "color": {"field": "m", "type": "nominal", "legend": null}}}
          ]
        },
        {
          "width": 308, "height": 97,
          "data": {"name": "b09y"},
          "encoding": {
            "x": {"field": "d", "type": "nominal", "scale": {"domain": ["1050", "2101", "3151", "4202", "5252"], "paddingInner": 0.52, "paddingOuter": 0.148},
                  "axis": {"title": "Distance traveled [m]", "labelAngle": 0, "labelFontSize": 12.5, "titleFontSize": 12.5, "tickSize": -4, "labelPadding": 5, "titlePadding": 0}},
            "xOffset": {"field": "m", "type": "nominal", "scale": {"domain": ["ICP", "Proposed", "LeGO-LOAM"], "paddingInner": 0.05}}
          },
          "layer": [
            {"mark": {"type": "rule", "strokeWidth": 1.2}, "encoding": {"y": {"field": "lo", "type": "quantitative", "title": "Yaw error [deg]", "scale": {"domain": [0, 30], "nice": false}, "axis": {"values": [0, 5, 10, 15, 20, 25, 30], "grid": false, "tickSize": -4, "labelPadding": 4, "titlePadding": 2, "labelFontSize": 12.5, "titleFontSize": 12.5}}, "y2": {"field": "hi"}, "color": {"field": "m", "type": "nominal", "legend": null}}},
            {"mark": {"type": "bar", "fill": "white", "strokeWidth": 1.2, "width": 10}, "encoding": {"y": {"field": "q1", "type": "quantitative", "title": "Yaw error [deg]", "axis": {"values": [0, 5, 10, 15, 20, 25, 30], "grid": false, "tickSize": -4, "labelPadding": 4, "titlePadding": 2, "labelFontSize": 12.5, "titleFontSize": 12.5}}, "y2": {"field": "q3"}, "stroke": {"field": "m", "type": "nominal", "legend": null}}},
            {"mark": {"type": "tick", "thickness": 1.2, "size": 10}, "encoding": {"y": {"field": "md", "type": "quantitative", "title": "Yaw error [deg]", "axis": {"values": [0, 5, 10, 15, 20, 25, 30], "grid": false, "tickSize": -4, "labelPadding": 4, "titlePadding": 2, "labelFontSize": 12.5, "titleFontSize": 12.5}}, "color": {"field": "m", "type": "nominal", "legend": null}}},
            {"mark": {"type": "tick", "thickness": 1.2, "size": 6}, "encoding": {"y": {"field": "lo", "type": "quantitative", "title": "Yaw error [deg]", "axis": {"values": [0, 5, 10, 15, 20, 25, 30], "grid": false, "tickSize": -4, "labelPadding": 4, "titlePadding": 2, "labelFontSize": 12.5, "titleFontSize": 12.5}}, "color": {"field": "m", "type": "nominal", "legend": null}}},
            {"mark": {"type": "tick", "thickness": 1.2, "size": 6}, "encoding": {"y": {"field": "hi", "type": "quantitative", "title": "Yaw error [deg]", "axis": {"values": [0, 5, 10, 15, 20, 25, 30], "grid": false, "tickSize": -4, "labelPadding": 4, "titlePadding": 2, "labelFontSize": 12.5, "titleFontSize": 12.5}}, "color": {"field": "m", "type": "nominal", "legend": null}}}
          ]
        }
      ]
    }
  ]
},
{
  "spacing": 18,
  "title": {"text": "(b) Urban 28 (Trajectory and Relative Errors)", "orient": "bottom", "anchor": "middle", "offset": 14, "dx": -7},
  "vconcat": [
    {
      "spacing": 8,
      "hconcat": [
        {"width": 1, "height": 297, "data": {"values": []}, "mark": "point", "view": {"stroke": "transparent"},
         "encoding": {"y": {"field": "y", "type": "quantitative", "scale": {"domain": [400, 1600]}, "axis": {"title": "y [m]", "labels": false, "ticks": false, "domain": false, "grid": false, "titlePadding": 0}}}},
        {
          "width": 420, "height": 297,
          "view": {"stroke": "#000", "strokeDash": [5, 3]},
          "layer": [
            {"data": {"name": "t28"}, "mark": {"type": "line", "strokeWidth": 1.1, "clip": true},
             "encoding": {
               "x": {"field": "x", "type": "quantitative", "scale": {"domain": [331.6, 333.4], "nice": false, "zero": false},
                     "axis": {"values": [331.6, 331.8, 332, 332.2, 332.4, 332.6, 332.8, 333, 333.2, 333.4], "format": "~f", "title": "x [m]", "grid": true, "gridDash": [4, 3], "gridColor": "#b0b0b0", "tickSize": -5, "labelPadding": 7, "titlePadding": 4}},
               "y": {"field": "y", "type": "quantitative", "scale": {"domain": [400, 1600], "nice": false, "zero": false},
                     "axis": {"values": [400, 600, 800, 1000, 1200, 1400, 1600], "format": "d", "title": null, "grid": true, "gridDash": [4, 3], "gridColor": "#b0b0b0", "tickSize": -5, "labelPadding": 5}},
               "color": {"field": "m", "type": "nominal", "legend": null},
               "detail": {"field": "s"},
               "order": {"value": null}
             }},
            {"data": {"name": "lab28"}, "mark": {"type": "text", "align": "center", "baseline": "middle", "fontSize": 10, "color": "#222"},
             "encoding": {
               "x": {"field": "x", "type": "quantitative", "axis": {"values": [331.6, 331.8, 332, 332.2, 332.4, 332.6, 332.8, 333, 333.2, 333.4], "format": "~f", "title": "x [m]", "grid": true, "gridDash": [4, 3], "gridColor": "#b0b0b0", "tickSize": -5, "labelPadding": 7, "titlePadding": 4}},
               "y": {"field": "y", "type": "quantitative", "axis": {"values": [400, 600, 800, 1000, 1200, 1400, 1600], "format": "d", "title": null, "grid": true, "gridDash": [4, 3], "gridColor": "#b0b0b0", "tickSize": -5, "labelPadding": 5}},
               "text": {"field": "t"}}},
            {"data": {"name": "exp28"}, "mark": {"type": "text", "align": "left", "baseline": "alphabetic", "fontSize": 12.5, "color": "#000"},
             "encoding": {
               "x": {"field": "x", "type": "quantitative", "axis": {"values": [331.6, 331.8, 332, 332.2, 332.4, 332.6, 332.8, 333, 333.2, 333.4], "format": "~f", "title": "x [m]", "grid": true, "gridDash": [4, 3], "gridColor": "#b0b0b0", "tickSize": -5, "labelPadding": 7, "titlePadding": 4}},
               "y": {"field": "y", "type": "quantitative", "axis": {"values": [400, 600, 800, 1000, 1200, 1400, 1600], "format": "d", "title": null, "grid": true, "gridDash": [4, 3], "gridColor": "#b0b0b0", "tickSize": -5, "labelPadding": 5}},
               "text": {"field": "t"}}}
          ]
        }
      ]
    },
    {
      "spacing": 8,
      "hconcat": [
        {
          "width": 280, "height": 95,
          "data": {"name": "b28t"},
          "encoding": {
            "x": {"field": "d", "type": "nominal", "scale": {"domain": ["1100.0", "2200.0", "3300.0", "4401.0", "5501.0"], "paddingInner": 0.5, "paddingOuter": 0.25},
                  "axis": {"title": "Distance traveled [m]", "labelAngle": 0, "labelFontSize": 12.5, "titleFontSize": 12.5, "tickSize": -4, "labelPadding": 5, "titlePadding": 0}},
            "xOffset": {"field": "m", "type": "nominal", "scale": {"domain": ["ICP", "Proposed", "LeGO-LOAM"], "paddingInner": 0.05}}
          },
          "layer": [
            {"mark": {"type": "rule", "strokeWidth": 1.2}, "encoding": {"y": {"field": "lo", "type": "quantitative", "title": "Translation error [%]", "scale": {"domain": [0, 25], "nice": false}, "axis": {"values": [0, 5, 10, 15, 20, 25], "grid": false, "tickSize": -4, "labelPadding": 4, "titlePadding": 2, "labelFontSize": 12.5, "titleFontSize": 12.5}}, "y2": {"field": "hi"}, "color": {"field": "m", "type": "nominal", "legend": null}}},
            {"mark": {"type": "bar", "fill": "white", "strokeWidth": 1.2, "width": 9}, "encoding": {"y": {"field": "q1", "type": "quantitative", "title": "Translation error [%]", "axis": {"values": [0, 5, 10, 15, 20, 25], "grid": false, "tickSize": -4, "labelPadding": 4, "titlePadding": 2, "labelFontSize": 12.5, "titleFontSize": 12.5}}, "y2": {"field": "q3"}, "stroke": {"field": "m", "type": "nominal", "legend": null}}},
            {"mark": {"type": "tick", "thickness": 1.2, "size": 9}, "encoding": {"y": {"field": "md", "type": "quantitative", "title": "Translation error [%]", "axis": {"values": [0, 5, 10, 15, 20, 25], "grid": false, "tickSize": -4, "labelPadding": 4, "titlePadding": 2, "labelFontSize": 12.5, "titleFontSize": 12.5}}, "color": {"field": "m", "type": "nominal", "legend": null}}},
            {"mark": {"type": "tick", "thickness": 1.2, "size": 6}, "encoding": {"y": {"field": "lo", "type": "quantitative", "title": "Translation error [%]", "axis": {"values": [0, 5, 10, 15, 20, 25], "grid": false, "tickSize": -4, "labelPadding": 4, "titlePadding": 2, "labelFontSize": 12.5, "titleFontSize": 12.5}}, "color": {"field": "m", "type": "nominal", "legend": null}}},
            {"mark": {"type": "tick", "thickness": 1.2, "size": 6}, "encoding": {"y": {"field": "hi", "type": "quantitative", "title": "Translation error [%]", "axis": {"values": [0, 5, 10, 15, 20, 25], "grid": false, "tickSize": -4, "labelPadding": 4, "titlePadding": 2, "labelFontSize": 12.5, "titleFontSize": 12.5}}, "color": {"field": "m", "type": "nominal", "legend": null}}}
          ]
        },
        {
          "width": 280, "height": 96,
          "data": {"name": "b28y"},
          "encoding": {
            "x": {"field": "d", "type": "nominal", "scale": {"domain": ["1100.0", "2200.0", "3300.0", "4401.0", "5501.0"], "paddingInner": 0.52, "paddingOuter": 0.24},
                  "axis": {"title": "Distance traveled [m]", "labelAngle": 0, "labelFontSize": 12.5, "titleFontSize": 12.5, "tickSize": -4, "labelPadding": 5, "titlePadding": 0}},
            "xOffset": {"field": "m", "type": "nominal", "scale": {"domain": ["ICP", "Proposed", "LeGO-LOAM"], "paddingInner": 0.05}}
          },
          "layer": [
            {"mark": {"type": "rule", "strokeWidth": 1.2}, "encoding": {"y": {"field": "lo", "type": "quantitative", "title": "Yaw error [deg]", "scale": {"domain": [0, 30], "nice": false}, "axis": {"values": [0, 5, 10, 15, 20, 25, 30], "grid": false, "tickSize": -4, "labelPadding": 4, "titlePadding": 2, "labelFontSize": 12.5, "titleFontSize": 12.5}}, "y2": {"field": "hi"}, "color": {"field": "m", "type": "nominal", "legend": null}}},
            {"mark": {"type": "bar", "fill": "white", "strokeWidth": 1.2, "width": 9}, "encoding": {"y": {"field": "q1", "type": "quantitative", "title": "Yaw error [deg]", "axis": {"values": [0, 5, 10, 15, 20, 25, 30], "grid": false, "tickSize": -4, "labelPadding": 4, "titlePadding": 2, "labelFontSize": 12.5, "titleFontSize": 12.5}}, "y2": {"field": "q3"}, "stroke": {"field": "m", "type": "nominal", "legend": null}}},
            {"mark": {"type": "tick", "thickness": 1.2, "size": 9}, "encoding": {"y": {"field": "md", "type": "quantitative", "title": "Yaw error [deg]", "axis": {"values": [0, 5, 10, 15, 20, 25, 30], "grid": false, "tickSize": -4, "labelPadding": 4, "titlePadding": 2, "labelFontSize": 12.5, "titleFontSize": 12.5}}, "color": {"field": "m", "type": "nominal", "legend": null}}},
            {"mark": {"type": "tick", "thickness": 1.2, "size": 6}, "encoding": {"y": {"field": "lo", "type": "quantitative", "title": "Yaw error [deg]", "axis": {"values": [0, 5, 10, 15, 20, 25, 30], "grid": false, "tickSize": -4, "labelPadding": 4, "titlePadding": 2, "labelFontSize": 12.5, "titleFontSize": 12.5}}, "color": {"field": "m", "type": "nominal", "legend": null}}},
            {"mark": {"type": "tick", "thickness": 1.2, "size": 6}, "encoding": {"y": {"field": "hi", "type": "quantitative", "title": "Yaw error [deg]", "axis": {"values": [0, 5, 10, 15, 20, 25, 30], "grid": false, "tickSize": -4, "labelPadding": 4, "titlePadding": 2, "labelFontSize": 12.5, "titleFontSize": 12.5}}, "color": {"field": "m", "type": "nominal", "legend": null}}}
          ]
        }
      ]
    }
  ]
}
]
}
